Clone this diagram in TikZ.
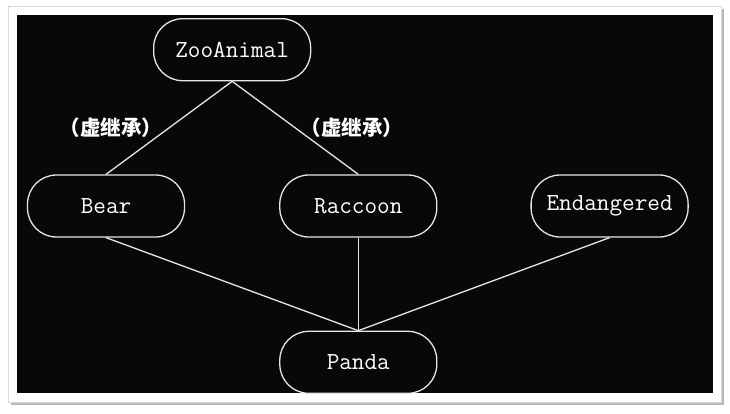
\documentclass[tikz,border=0pt]{standalone}
\usepackage{fontspec}
\newfontfamily\cjk{Noto Sans CJK SC}
\usepackage{tikz}
\usetikzlibrary{positioning,calc}
\definecolor{board}{HTML}{080808}
\definecolor{chalk}{HTML}{E6E6E6}
\tikzstyle{link} = [draw=chalk, line width=1.3pt]
\tikzstyle{animal} = [rectangle, rounded corners=29pt, draw=chalk, line width=1.3pt, text=white, minimum width=157pt, minimum height=62pt, font=\ttfamily\fontsize{24.5}{26}\selectfont]
\tikzstyle{virt} = [text=white, inner sep=0pt, font=\cjk\bfseries\fontsize{20.5}{22}\selectfont]

\begin{document}
\begin{tikzpicture}
    % frame
    \useasboundingbox (0,0) rectangle (730pt,413pt);
    \fill[gray!55] (11pt,8pt) rectangle (724pt,404pt);
    \filldraw[fill=white, draw=gray!30] (8pt,11pt) rectangle (721pt,407pt);
    \fill[board] (17pt,20pt) rectangle (713pt,398pt);

    % classes
    \node[animal] (bear) at (106pt,207pt) {Bear};
    \node[animal, right=94pt of bear] (raccoon) {Raccoon};
    \node[animal, right=93pt of raccoon] (endangered) {Endangered};
    \node[animal, below=93pt of raccoon] (panda) {Panda};
    \node[animal, above=93pt] (zoo) at ($(bear.north)!.5!(raccoon.north)$) {ZooAnimal};

    % inheritance
    \draw[link] (zoo.south) -- node[virt, left=6pt] {（虚继承）} (bear.north);
    \draw[link] (zoo.south) -- node[virt, right=5pt] {（虚继承）} (raccoon.north);
    \draw[link] (bear.south) -- (panda.north);
    \draw[link] (raccoon.south) -- (panda.north);
    \draw[link] (endangered.south) -- (panda.north);
\end{tikzpicture}
\end{document}
